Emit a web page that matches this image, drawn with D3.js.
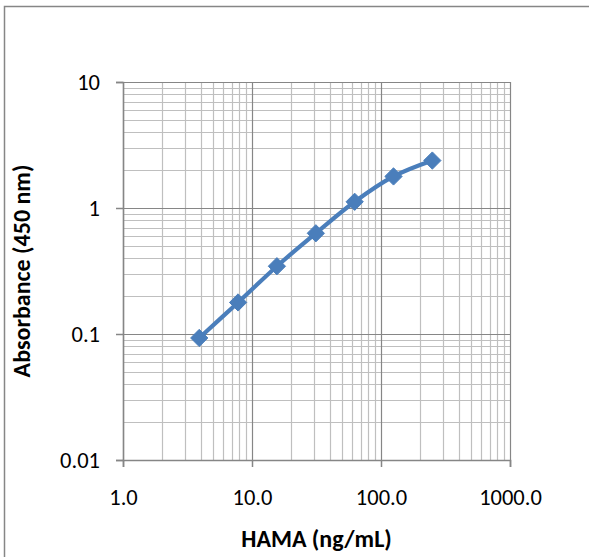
<!DOCTYPE html>
<html>
<head>
<meta charset="utf-8">
<script src="https://cdn.jsdelivr.net/npm/d3@7"></script>
<style>
  body { margin: 0; background: #fff; }
  text { font-family: Carlito, Lato, "Liberation Sans", sans-serif; fill: #000; }
</style>
</head>
<body>
<div id="chart"></div>
<script>
const concentrations = [3.9, 7.8, 15.6, 31.25, 62.5, 125, 250];
const absorbance = [0.093, 0.178, 0.345, 0.63, 1.12, 1.78, 2.38];
const xTicks = [1, 10, 100, 1000];
const yTicks = [0.01, 0.1, 1, 10];

const W = 589, H = 557;
const margin = { t: 82, r: 79, b: 97, l: 123 };
const w = W - margin.l - margin.r;
const h = H - margin.t - margin.b;

const x = d3.scaleLog().domain([1, 1000]).range([0, w]);
const y = d3.scaleLog().domain([0.01, 10]).range([h, 0]);

const svg = d3.select('#chart').append('svg')
  .attr('width', W)
  .attr('height', H);

// chart frame
svg.append('rect')
  .attr('x', 4.5).attr('y', 6.5)
  .attr('width', W + 10).attr('height', H + 10)
  .attr('fill', 'none')
  .attr('stroke', '#868686')
  .attr('stroke-width', 1.5);

const g = svg.append('g')
  .attr('transform', `translate(${margin.l}, ${margin.t})`);

// minor grid
const minorX = [];
const minorY = [];
[1, 10, 100].forEach(d => { for (let k = 2; k < 10; k++) minorX.push(d * k); });
[0.01, 0.1, 1].forEach(d => { for (let k = 2; k < 10; k++) minorY.push(d * k); });

g.selectAll('.minor-x').data(minorX).enter().append('line')
  .attr('x1', d => Math.round(x(d)) + 0.5).attr('x2', d => Math.round(x(d)) + 0.5)
  .attr('y1', 0).attr('y2', h)
  .attr('stroke', '#bfbfbf').attr('stroke-width', 1.2);

g.selectAll('.minor-y').data(minorY).enter().append('line')
  .attr('y1', d => Math.round(y(d)) + 0.5).attr('y2', d => Math.round(y(d)) + 0.5)
  .attr('x1', 0).attr('x2', w)
  .attr('stroke', '#bfbfbf').attr('stroke-width', 1.2);

// major grid
g.selectAll('.major-x').data(xTicks).enter().append('line')
  .attr('x1', d => Math.round(x(d)) + 0.5).attr('x2', d => Math.round(x(d)) + 0.5)
  .attr('y1', 0).attr('y2', h)
  .attr('stroke', '#868686').attr('stroke-width', 1.2);

g.selectAll('.major-y').data(yTicks).enter().append('line')
  .attr('y1', d => Math.round(y(d)) + 0.5).attr('y2', d => Math.round(y(d)) + 0.5)
  .attr('x1', 0).attr('x2', w)
  .attr('stroke', '#868686').attr('stroke-width', 1.2);

// axes
const xAxis = d3.axisBottom(x).tickValues(xTicks).tickSize(7).tickPadding(22)
  .tickFormat(d3.format('.1f'));
const yAxis = d3.axisLeft(y).tickValues(yTicks).tickSize(7).tickPadding(16)
  .tickFormat(d => String(d));

const gx = g.append('g')
  .attr('transform', `translate(0, ${h})`)
  .call(xAxis);
const gy = g.append('g').call(yAxis);

[gx, gy].forEach(a => {
  a.select('.domain').attr('stroke', '#868686').attr('stroke-width', 1.5);
  a.selectAll('.tick line').attr('stroke', '#868686').attr('stroke-width', 1.5);
  a.selectAll('.tick text').style('font-size', '22.5px').attr('fill', '#000');
});
gy.selectAll('.tick text').attr('dy', '0.33em');

// series
const data = concentrations.map((c, i) => ({ c, v: absorbance[i] }));
const line = d3.line()
  .x(d => x(d.c))
  .y(d => y(d.v))
  .curve(d3.curveCatmullRom.alpha(0.5));

g.append('path')
  .datum(data)
  .attr('d', line)
  .attr('fill', 'none')
  .attr('stroke', '#4a7ebb')
  .attr('stroke-width', 4.2)
  .attr('stroke-linejoin', 'round');

g.selectAll('.marker').data(data).enter().append('path')
  .attr('transform', d => `translate(${x(d.c)}, ${y(d.v)})`)
  .attr('d', d3.symbol().type(d3.symbolDiamond2).size(190))
  .attr('fill', '#4a7ebb')
  .attr('stroke', '#4a7ebb')
  .attr('stroke-width', 1);

// axis titles
svg.append('text')
  .attr('x', margin.l + w / 2)
  .attr('y', 547)
  .attr('text-anchor', 'middle')
  .style('font-size', '24px')
  .style('font-weight', 'bold')
  .text('HAMA (ng/mL)');

svg.append('text')
  .attr('transform', `translate(30, ${margin.t + h / 2}) rotate(-90)`)
  .attr('text-anchor', 'middle')
  .style('font-size', '24px')
  .style('font-weight', 'bold')
  .text('Absorbance (450 nm)');
</script>
</body>
</html>
